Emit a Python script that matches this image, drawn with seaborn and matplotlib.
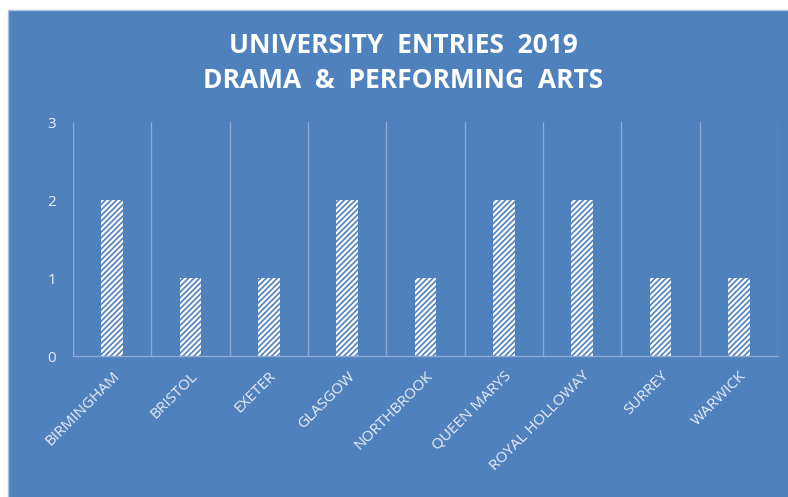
import matplotlib.pyplot as plt
import matplotlib.patches as mpatches
import pandas as pd
import seaborn as sns

# entries per university
universities = ["BIRMINGHAM", "BRISTOL", "EXETER", "GLASGOW", "NORTHBROOK",
                "QUEEN MARYS", "ROYAL HOLLOWAY", "SURREY", "WARWICK"]
entries = [2, 1, 1, 2, 1, 2, 2, 1, 1]
yticks = [0, 1, 2, 3]

df = pd.DataFrame({"University": universities, "Entries": entries})

blue = "#4F81BD"
grid_col = "#8DA9D4"
text_col = "#E8EEF6"

sns.set_theme(style="white")
plt.rcParams['font.family'] = ['Open Sans', 'DejaVu Sans']
plt.rcParams['hatch.linewidth'] = 1.2

fig = plt.figure(figsize=(7.88, 4.97), dpi=100, facecolor="white")
# blue chart area (white strip on left and top)
fig.patches.append(mpatches.Rectangle((8 / 788, -0.05), 1.1, 1.05 - 10 / 497,
                                      transform=fig.transFigure,
                                      facecolor=blue, edgecolor="#A9BEDD",
                                      linewidth=1, zorder=-1))
ax = fig.add_axes([73 / 788, 1 - 356 / 497, 705 / 788, 234 / 497])
ax.set_facecolor(blue)

sns.barplot(data=df, x="University", y="Entries", ax=ax, width=0.28,
            color="white", saturation=1, zorder=3)
for p in ax.patches:
    p.set_facecolor("white")
    p.set_edgecolor(blue)
    p.set_hatch("//////")
    p.set_linewidth(0)

ax.set_xlim(-0.5, len(universities) - 0.5)
ax.set_ylim(0, 3)
ax.set_yticks(yticks)
for i in range(len(universities) + 1):
    ax.axvline(i - 0.5, color=grid_col, linewidth=1, zorder=1)

for s in ["top", "right", "left"]:
    ax.spines[s].set_visible(False)
ax.spines["bottom"].set_color(grid_col)
ax.spines["bottom"].set_linewidth(1)
ax.spines["bottom"].set_zorder(4)

ax.set_xlabel("")
ax.set_ylabel("")
ax.tick_params(axis="y", colors=text_col, labelsize=11, length=0, pad=12)
ax.tick_params(axis="x", colors=text_col, labelsize=11, length=0, pad=9)
plt.setp(ax.get_xticklabels(), rotation=45, ha="right", va="top",
         rotation_mode="anchor")
for lab in ax.get_yticklabels():
    lab.set_color(text_col)
for lab in ax.get_xticklabels():
    lab.set_color(text_col)

fig.text(403 / 788, 1 - 46 / 497, "UNIVERSITY  ENTRIES  2019", color="white",
         fontsize=19, fontweight="bold", ha="center", va="center")
fig.text(403 / 788, 1 - 80 / 497, "DRAMA  &  PERFORMING  ARTS", color="white",
         fontsize=19, fontweight="bold", ha="center", va="center")

fig.savefig("out.png", dpi=100, facecolor="white")
